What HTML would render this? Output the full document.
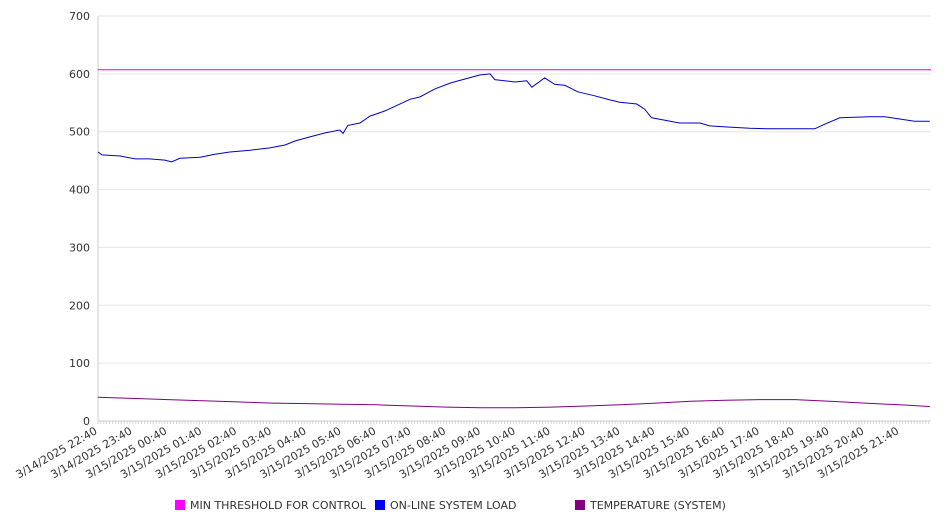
<!DOCTYPE html>
<html><head><meta charset="utf-8"><style>
body{margin:0;background:#fff;font-family:"DejaVu Sans","Liberation Sans",sans-serif;}
svg text{font-family:"DejaVu Sans","Liberation Sans",sans-serif;fill:#333;}
</style></head><body>
<svg id="chart" width="946" height="526" xmlns="http://www.w3.org/2000/svg">
<g id="grid"></g>
<g id="axes"></g>
<g id="series"></g>
<g id="legend">
<rect x="175" y="500" width="10" height="10" fill="#ff00ff"/>
<text x="190" y="509" font-size="11">MIN THRESHOLD FOR CONTROL</text>
<rect x="375" y="500" width="10" height="10" fill="#0000ff"/>
<text x="390" y="509" font-size="11">ON-LINE SYSTEM LOAD</text>
<rect x="575" y="500" width="10" height="10" fill="#800080"/>
<text x="590" y="509" font-size="11">TEMPERATURE (SYSTEM)</text>
</g>
</svg>
<script>
const yTicks=[0,100,200,300,400,500,600,700];
const xLabels=["3/14/2025 22:40","3/14/2025 23:40","3/15/2025 00:40","3/15/2025 01:40","3/15/2025 02:40","3/15/2025 03:40","3/15/2025 04:40","3/15/2025 05:40","3/15/2025 06:40","3/15/2025 07:40","3/15/2025 08:40","3/15/2025 09:40","3/15/2025 10:40","3/15/2025 11:40","3/15/2025 12:40","3/15/2025 13:40","3/15/2025 14:40","3/15/2025 15:40","3/15/2025 16:40","3/15/2025 17:40","3/15/2025 18:40","3/15/2025 19:40","3/15/2025 20:40","3/15/2025 21:40"];
const thresholdValue=607;
const loadMinutes=[0,7,38,64,89,115,127,141,176,201,227,262,296,322,339,365,391,416,422,430,451,468,494,520,537,554,580,606,631,657,675,683,692,718,738,747,769,786,804,826,855,881,898,927,941,953,975,1001,1036,1053,1087,1122,1156,1191,1234,1251,1277,1303,1328,1354,1380,1406,1432];
const loadValues=[465,460,458,453,453,451,448,454,456,461,465,468,472,477,484,491,498,503,497,511,515,527,536,548,556,560,574,584,591,598,600,590,589,586,588,577,593,582,580,569,562,555,551,548,539,524,520,515,515,510,508,506,505,505,505,513,524,525,526,526,522,518,518];
const tempMinutes=[0,60,120,180,240,300,360,420,480,540,600,660,720,780,840,900,960,1020,1080,1140,1200,1260,1320,1380,1432];
const tempValues=[41,39,37,35,33,31,30,29,28,26,24,23,23,24,26,28,31,34,36,37,37,34,31,28,25];

const X0=98,X1=931,Y0=421,Y1=16,MAXM=1434,YMAX=700;
const xs=m=>X0+(X1-X0)*m/MAXM;
const ys=v=>Y0-(Y0-Y1)*v/YMAX;
const NS="http://www.w3.org/2000/svg";
function mk(tag,attrs,parent){const e=document.createElementNS(NS,tag);for(const k in attrs)e.setAttribute(k,attrs[k]);parent.appendChild(e);return e;}
const grid=document.getElementById('grid'),axes=document.getElementById('axes'),series=document.getElementById('series');
yTicks.forEach(v=>{
  const l=mk('line',{x1:X0,x2:X1,y1:ys(v),y2:ys(v),stroke:'#e6e6e6','stroke-width':1},grid);
  
  
  const t=mk('text',{x:90,y:ys(v)+4,'text-anchor':'end','font-size':11},axes);
  t.textContent=v;
  
  
});
const ya=mk('line',{x1:X0,x2:X0,y1:Y1,y2:Y0,stroke:'#ccc'},axes);


const xa=mk('line',{x1:X0,x2:X1,y1:Y0,y2:Y0,stroke:'#ccc'},axes);


let td='';
for(let m=0;m<=MAXM;m+=5){const x=xs(m).toFixed(1);td+=`M${x} ${Y0}V${Y0+3}`;}
const tk=mk('path',{d:td,stroke:'#ccc','stroke-width':0.8,fill:'none'},axes);


xLabels.forEach((s,i)=>{
  const x=xs(i*60),y=Y0+12;
  const t=mk('text',{x:x,y:y,'text-anchor':'end','font-size':11,transform:`rotate(-30 ${x} ${y})`},axes);
  t.textContent=s;
  
  
});
const th=mk('line',{x1:X0,x2:X1,y1:ys(thresholdValue),y2:ys(thresholdValue),stroke:'#dd00dd','stroke-width':1},series);


const lp=mk('polyline',{points:loadMinutes.map((m,i)=>xs(m).toFixed(1)+','+ys(loadValues[i]).toFixed(1)).join(' '),fill:'none',stroke:'#0000cc','stroke-width':1},series);


const tp=mk('polyline',{points:tempMinutes.map((m,i)=>xs(m).toFixed(1)+','+ys(tempValues[i]).toFixed(1)).join(' '),fill:'none',stroke:'#800080','stroke-width':1},series);


</script>
</body></html>
